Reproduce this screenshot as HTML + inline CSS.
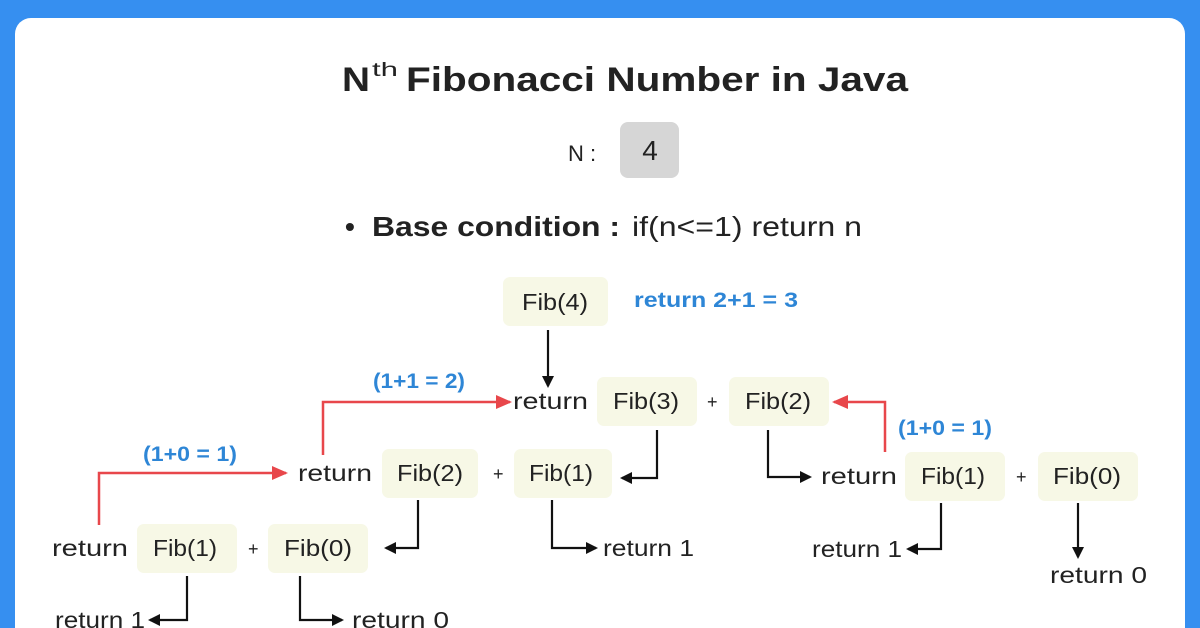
<!DOCTYPE html>
<html><head><meta charset="utf-8"><style>
html,body{margin:0;padding:0;width:1200px;height:628px;overflow:hidden;background:#368ff0;}
svg{display:block}
text{font-family:"Liberation Sans",sans-serif;fill:#222;}
</style></head><body>
<svg width="1200" height="628" viewBox="0 0 1200 628">
<defs>
<marker id="ab" markerWidth="12" markerHeight="12" refX="10" refY="6" orient="auto" markerUnits="userSpaceOnUse"><path d="M0,0 L12,6 L0,12 z" fill="#111"/></marker>
<marker id="ar" markerWidth="16" markerHeight="14" refX="14" refY="7" orient="auto" markerUnits="userSpaceOnUse"><path d="M0,0 L16,7 L0,14 z" fill="#e8474b"/></marker>
</defs>
<rect x="15" y="18" width="1170" height="640" rx="16" fill="#fff"/>
<text x="342" y="91" font-size="34" font-weight="bold" textLength="28" lengthAdjust="spacingAndGlyphs">N</text>
<text x="372" y="76" font-size="19" textLength="26" lengthAdjust="spacingAndGlyphs">th</text>
<text x="406" y="91" font-size="34" font-weight="bold" textLength="502" lengthAdjust="spacingAndGlyphs">Fibonacci Number in Java</text>
<text x="568" y="161" font-size="22">N :</text>
<rect x="620" y="122" width="59" height="56" rx="8" fill="#d6d6d6"/>
<text x="650" y="160" text-anchor="middle" font-size="28">4</text>
<text x="345" y="236" font-size="28" font-weight="bold">•</text>
<text x="372" y="236" font-size="28" font-weight="bold" textLength="248" lengthAdjust="spacingAndGlyphs">Base condition :</text>
<text x="632" y="236" font-size="28" textLength="230" lengthAdjust="spacingAndGlyphs">if(n&lt;=1) return n</text>

<g fill="#f7f8e6">
<rect x="503" y="277" width="105" height="49" rx="7"/>
<rect x="597" y="377" width="100" height="49" rx="7"/>
<rect x="729" y="377" width="100" height="49" rx="7"/>
<rect x="382" y="449" width="96" height="49" rx="7"/>
<rect x="514" y="449" width="98" height="49" rx="7"/>
<rect x="905" y="452" width="100" height="49" rx="7"/>
<rect x="1038" y="452" width="100" height="49" rx="7"/>
<rect x="137" y="524" width="100" height="49" rx="7"/>
<rect x="268" y="524" width="100" height="49" rx="7"/>
</g>
<g font-size="23">
<text x="522" y="310" textLength="66" lengthAdjust="spacingAndGlyphs">Fib(4)</text>
<text x="613" y="409" textLength="66" lengthAdjust="spacingAndGlyphs">Fib(3)</text>
<text x="707" y="408" font-size="18">+</text>
<text x="745" y="409" textLength="66" lengthAdjust="spacingAndGlyphs">Fib(2)</text>
<text x="397" y="481" textLength="66" lengthAdjust="spacingAndGlyphs">Fib(2)</text>
<text x="493" y="480" font-size="18">+</text>
<text x="529" y="481" textLength="64" lengthAdjust="spacingAndGlyphs">Fib(1)</text>
<text x="921" y="484" textLength="64" lengthAdjust="spacingAndGlyphs">Fib(1)</text>
<text x="1016" y="483" font-size="18">+</text>
<text x="1053" y="484" textLength="68" lengthAdjust="spacingAndGlyphs">Fib(0)</text>
<text x="153" y="556" textLength="64" lengthAdjust="spacingAndGlyphs">Fib(1)</text>
<text x="248" y="555" font-size="18">+</text>
<text x="284" y="556" textLength="68" lengthAdjust="spacingAndGlyphs">Fib(0)</text>
</g>
<g font-size="23">
<text x="513" y="409" textLength="75" lengthAdjust="spacingAndGlyphs">return</text>
<text x="298" y="481" textLength="74" lengthAdjust="spacingAndGlyphs">return</text>
<text x="821" y="484" textLength="76" lengthAdjust="spacingAndGlyphs">return</text>
<text x="52" y="556" textLength="76" lengthAdjust="spacingAndGlyphs">return</text>
<text x="603" y="556" textLength="91" lengthAdjust="spacingAndGlyphs">return 1</text>
<text x="812" y="557" textLength="90" lengthAdjust="spacingAndGlyphs">return 1</text>
<text x="1050" y="583" textLength="97" lengthAdjust="spacingAndGlyphs">return 0</text>
<text x="55" y="628" textLength="90" lengthAdjust="spacingAndGlyphs">return 1</text>
<text x="352" y="628" textLength="97" lengthAdjust="spacingAndGlyphs">return 0</text>
</g>
<g font-size="21" font-weight="bold">
<text x="634" y="307" style="fill:#2e86d6" textLength="164" lengthAdjust="spacingAndGlyphs">return 2+1 = 3</text>
<text x="373" y="388" style="fill:#2e86d6" textLength="92" lengthAdjust="spacingAndGlyphs">(1+1 = 2)</text>
<text x="898" y="435" style="fill:#2e86d6" textLength="94" lengthAdjust="spacingAndGlyphs">(1+0 = 1)</text>
<text x="143" y="461" style="fill:#2e86d6" textLength="94" lengthAdjust="spacingAndGlyphs">(1+0 = 1)</text>
</g>
<g fill="none" stroke="#e8474b" stroke-width="2.5">
<polyline points="323,455 323,402 510,402" marker-end="url(#ar)"/>
<polyline points="885,452 885,402 834,402" marker-end="url(#ar)"/>
<polyline points="99,525 99,473 286,473" marker-end="url(#ar)"/>
</g>
<g fill="none" stroke="#111" stroke-width="2.2">
<polyline points="548,330 548,386" marker-end="url(#ab)"/>
<polyline points="657,430 657,478 622,478" marker-end="url(#ab)"/>
<polyline points="768,430 768,477 810,477" marker-end="url(#ab)"/>
<polyline points="418,500 418,548 386,548" marker-end="url(#ab)"/>
<polyline points="552,500 552,548 596,548" marker-end="url(#ab)"/>
<polyline points="941,503 941,549 908,549" marker-end="url(#ab)"/>
<polyline points="1078,503 1078,557" marker-end="url(#ab)"/>
<polyline points="187,576 187,620 150,620" marker-end="url(#ab)"/>
<polyline points="300,576 300,620 342,620" marker-end="url(#ab)"/>
</g>
</svg>
</body></html>
